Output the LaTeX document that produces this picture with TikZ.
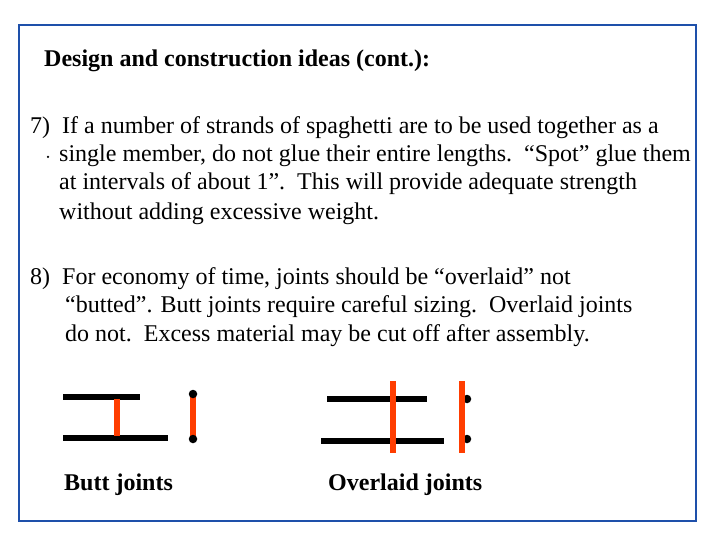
\documentclass[tikz,border=0pt]{standalone}
\usepackage{fontspec}
\setmainfont{Liberation Serif}
\begin{document}
\begin{tikzpicture}[x=1pt,y=-1pt,
  txt/.style={anchor=base west,inner sep=0pt,font=\fontsize{24}{28}\selectfont},
  ttl/.style={anchor=base west,inner sep=0pt,font=\fontsize{24}{28}\selectfont\bfseries},
  blk/.style={line width=6.5pt,black},
  red/.style={line width=6.5pt,color={rgb,255:red,255;green,61;blue,0}},
  dot/.style={circle,fill=black,inner sep=0pt,minimum size=8.5pt}]
\useasboundingbox (0,0) rectangle (720,540);
\draw[line width=2.5pt,color={rgb,255:red,30;green,80;blue,170}] (19,25) rectangle (696,521);
\node[ttl] (t) at (44,67) {Design and construction ideas (cont.):};
\node[txt] (a1) at (30,134) {7)\ \ If a number of strands of spaghetti are to be used together as a};
\node[circle,fill=black,inner sep=0pt,minimum size=2.5pt] (a0) at (48,157) {};
\node[txt] (a2) at (59,162) {single member, do not glue their entire lengths.\ \ “Spot” glue them};
\node[txt] (a3) at (59,190) {at intervals of about 1”.\ \ This will provide adequate strength};
\node[txt] (a4) at (59,219) {without adding excessive weight.};
\node[txt] (b1) at (30,284) {8)\ \ For economy of time, joints should be “overlaid” not};
\node[txt] (b2) at (65,312) {“butted”. Butt joints require careful sizing.\ \ Overlaid joints};
\node[txt] (b3) at (65,341) {do not.\ \ Excess material may be cut off after assembly.};
% butt joints
\coordinate (p1) at (63,397); \coordinate (p2) at (140,397);
\coordinate (p3) at (63,438); \coordinate (p4) at (168,438);
\draw[blk] (p1) -- (p2); \draw[blk] (p3) -- (p4);
\coordinate (r1) at (117,399); \coordinate (r2) at (117,436);
\draw[red] (r1) -- (r2);
\coordinate (r3) at (193,396); \coordinate (r4) at (193,437);
\draw[red] (r3) -- (r4);
\node[dot] (d1) at (193,394) {}; \node[dot] (d2) at (193,439) {};
% overlaid joints
\coordinate (q1) at (327,399); \coordinate (q2) at (427,399);
\coordinate (q3) at (321,441); \coordinate (q4) at (444,441);
\draw[blk] (q1) -- (q2); \draw[blk] (q3) -- (q4);
\node[dot] (e1) at (467,399) {}; \node[dot] (e2) at (467,439) {};
\coordinate (s1) at (393,381); \coordinate (s2) at (393,453);
\coordinate (s3) at (462,381); \coordinate (s4) at (462,453);
\draw[red] (s1) -- (s2); \draw[red] (s3) -- (s4);
\node[ttl] (l1) at (64,490) {Butt joints};
\node[ttl] (l2) at (328,490) {Overlaid joints};
\end{tikzpicture}
\end{document}
